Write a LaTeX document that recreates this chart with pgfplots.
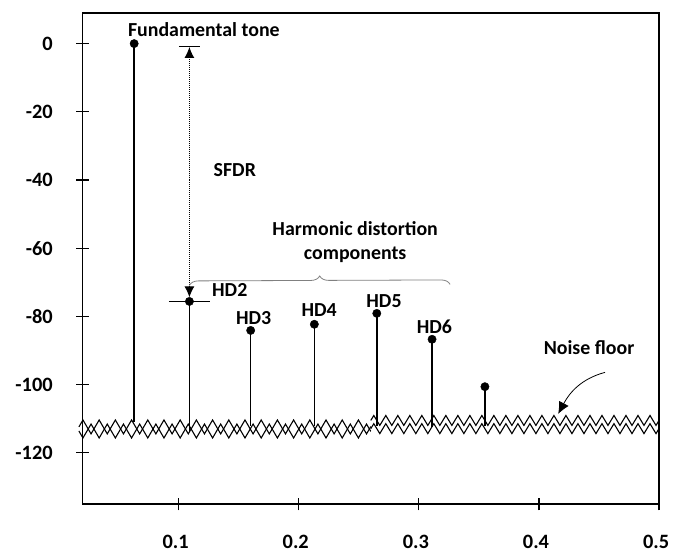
\documentclass[border=0pt]{standalone}
\usepackage{fontspec}
\setmainfont{Carlito}
\usepackage{pgfplots}
\pgfplotsset{compat=1.18}
\usetikzlibrary{arrows.meta, decorations.pathmorphing, decorations.pathreplacing}

\tikzset{lbl/.style={font=\fontsize{20bp}{24bp}\selectfont\bfseries, inner sep=0pt}}

\begin{document}
\begin{tikzpicture}
\begin{axis}[
    scale only axis,
    width=580bp, height=494bp,
    xmin=0.02, xmax=0.5,
    ymin=-135, ymax=9,
    clip=false,
    axis line style={line width=1.3bp},
    xtick={0.1,0.2,0.3,0.4,0.5},
    xticklabels={0.1,0.2,0.3,0.4,0.5},
    ytick={-120,-100,-80,-60,-40,-20,0},
    yticklabels={-120,-100,-80,-60,-40,-20,0},
    tick pos=left,
    tick align=center,
    major tick length=13bp,
    tick style={line width=1.3bp, black},
    tick label style={font=\fontsize{20.5bp}{24bp}\selectfont\bfseries},
    xticklabel style={yshift=-21bp, xshift=-3bp},
    yticklabel style={xshift=-20bp},
]
% stems (from the noise floor up to each tone)
\addplot[black, line width=1.5bp, unbounded coords=jump, mark=none] coordinates {
    (0.063,-111) (0.063,0) (0.063,nan)
    (0.109,-113.5) (0.109,-75.6) (0.109,nan)
    (0.160,-112) (0.160,-84.1) (0.160,nan)
    (0.213,-112) (0.213,-82.3) (0.213,nan)
    (0.265,-112) (0.265,-79.1) (0.265,nan)
    (0.311,-112.5) (0.311,-86.7) (0.311,nan)
    (0.355,-112) (0.355,-100.6)
};
\addplot[only marks, mark=*, mark size=4.2bp, black] coordinates {
    (0.063,0) (0.109,-75.6) (0.160,-84.1) (0.213,-82.3)
    (0.265,-79.1) (0.311,-86.7) (0.355,-100.6)
};
% noise floor
\addplot[black, line width=1.1bp, decorate, decoration={zigzag, segment length=16.3bp, amplitude=7bp}]
    coordinates {(0.017,-112.4) (0.26,-112.4)};
\addplot[black, line width=1.1bp, decorate, decoration={zigzag, segment length=16.3bp, amplitude=7bp, mirror}]
    coordinates {(0.017,-113.6) (0.26,-113.6)};
\addplot[black, line width=1.1bp, decorate, decoration={zigzag, segment length=12.08bp, amplitude=5bp}]
    coordinates {(0.26,-110.5) (0.5,-110.5)};
\addplot[black, line width=1.1bp, decorate, decoration={zigzag, segment length=12.08bp, amplitude=5bp}]
    coordinates {(0.26,-112.9) (0.5,-112.9)};

% SFDR marker
\draw[black, line width=1.3bp] (axis cs:0.1003,-0.9) -- (axis cs:0.1177,-0.9);
\draw[black, line width=1.3bp] (axis cs:0.0920,-75.6) -- (axis cs:0.1260,-75.6);
\draw[black, line width=1bp, densely dotted, {Latex[length=11bp,width=10bp]}-{Latex[length=11bp,width=10bp]}]
    (axis cs:0.109,-1.0) -- (axis cs:0.109,-74.4);

% brace over the harmonics
\draw[gray, line width=0.8bp, decorate, decoration={brace, amplitude=9bp}]
    (axis cs:0.109,-70.9) -- (axis cs:0.326,-70.6);

% noise floor arrow
\draw[black, line width=0.8bp, -{Latex[length=12bp,width=11bp]}]
    (axis cs:0.455,-96.4) to[out=195, in=62] (axis cs:0.416,-108.6);

\node[lbl] at (axis cs:0.121,4.0) {Fundamental tone};
\node[lbl] at (axis cs:0.1468,-37.0) {SFDR};
\node[lbl, align=center] at (axis cs:0.247,-58.3) {Harmonic distortion\\components};
\node[lbl] at (axis cs:0.1426,-72.3) {HD2};
\node[lbl] at (axis cs:0.1625,-80.4) {HD3};
\node[lbl] at (axis cs:0.217,-78.1) {HD4};
\node[lbl] at (axis cs:0.271,-75.5) {HD5};
\node[lbl] at (axis cs:0.313,-83.0) {HD6};
\node[lbl] at (axis cs:0.4417,-89.1) {Noise floor};
\end{axis}
\pgfresetboundingbox
\path (current axis.south west) ++(-83bp,-55bp) coordinate (bl);
\path (current axis.north east) ++(14bp,13bp) coordinate (tr);
\path (bl) rectangle (tr);
\end{tikzpicture}
\end{document}
